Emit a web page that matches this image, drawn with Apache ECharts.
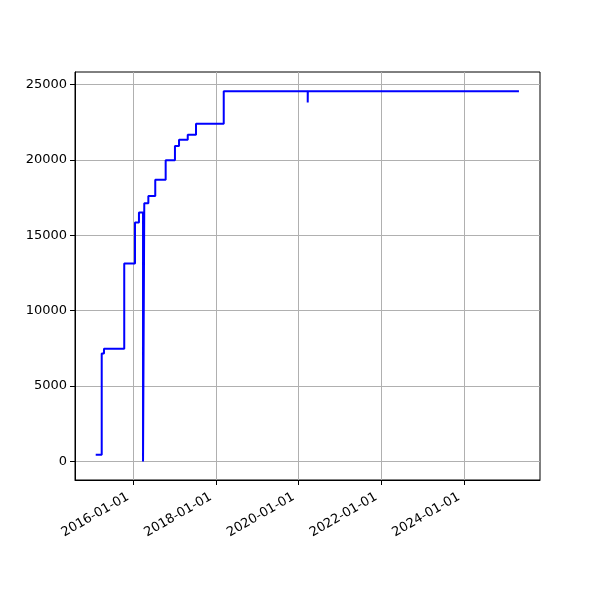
<!DOCTYPE html>
<html>
<head>
<meta charset="utf-8">
<script src="https://cdn.jsdelivr.net/npm/echarts@6/dist/echarts.min.js"></script>
<style>html,body{margin:0;padding:0;background:#fff}#c{width:600px;height:600px}</style>
</head>
<body>
<div id="c"></div>
<script>
// Change dates and the value reached on each date (step line)
var dates = ['2015-02-03','2015-03-28','2015-04-17','2015-10-13','2016-01-16','2016-02-20','2016-03-27','2016-04-07','2016-05-13','2016-07-13','2016-10-13','2017-01-03','2017-02-08','2017-04-26','2017-07-08','2018-03-10','2020-03-21','2020-03-22','2025-04-30'];
var values = [450,7160,7470,13130,15850,16510,0,17130,17600,18680,19980,20930,21330,21660,22390,24560,23800,24560,24560];
var xTickLabels = ['2016-01-01','2018-01-01','2020-01-01','2022-01-01','2024-01-01'];
var yTickLabels = [0,5000,10000,15000,20000,25000];
var xRange = ['2014-08-04','2025-11-02'];
var yRange = [-1230,25830];

var P = echarts.number.parseDate;
var xTicks = xTickLabels.map(function(d){return P(d).getTime();});
var seriesData = dates.map(function(d,i){return [P(d).getTime(), values[i]];});
function pad(n){return (n<10?'0':'')+n;}
function fmtDate(v){var d=new Date(v);return d.getFullYear()+'-'+pad(d.getMonth()+1)+'-'+pad(d.getDate());}

var chart = echarts.init(document.getElementById('c'), null, {renderer:'canvas'});
var font = 'DejaVu Sans';
chart.setOption({
  animation:false,
  backgroundColor:'#fff',
  grid:{left:75,right:60,top:72,bottom:120,show:true,borderColor:'#000',borderWidth:1,backgroundColor:'transparent'},
  xAxis:{
    type:'value',
    scale:true,
    min:P(xRange[0]).getTime(),
    max:P(xRange[1]).getTime(),
    axisLine:{show:true,onZero:false,lineStyle:{color:'#000',width:1}},
    axisTick:{show:true,inside:false,length:5,lineStyle:{color:'#000'},customValues:xTicks},
    splitLine:{show:true,lineStyle:{color:'#b0b0b0',width:1}},
    axisLabel:{
      customValues:xTicks,
      rotate:30,
      margin:13,
      padding:[0,6,0,0],
      color:'#000',
      fontFamily:font,
      fontSize:13,
      formatter:function(v){return fmtDate(v);}
    }
  },
  yAxis:{
    type:'value',
    min:yRange[0],
    max:yRange[1],
    axisLine:{show:true,lineStyle:{color:'#000',width:1}},
    axisTick:{show:true,inside:false,length:5,lineStyle:{color:'#000'},customValues:yTickLabels},
    splitLine:{show:true,lineStyle:{color:'#b0b0b0',width:1}},
    axisLabel:{
      customValues:yTickLabels,
      margin:8,
      color:'#000',
      fontFamily:font,
      fontSize:13,
      formatter:function(v){return String(v);}
    }
  },
  series:[{
    type:'line',
    step:'end',
    data:seriesData,
    showSymbol:false,
    symbol:'none',
    lineStyle:{color:'#0000ff',width:2},
    z:3
  }]
});
</script>
</body>
</html>
